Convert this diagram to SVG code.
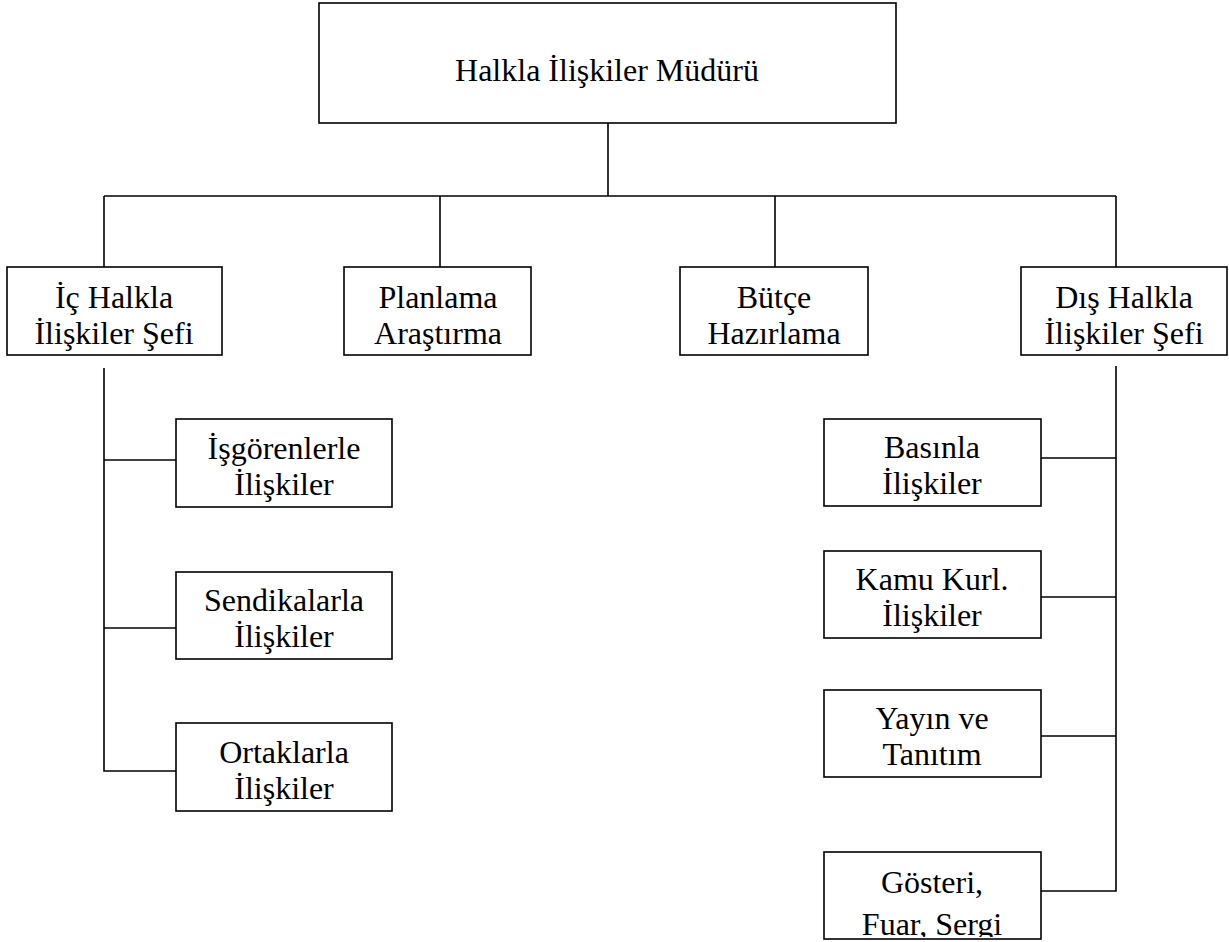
<svg xmlns="http://www.w3.org/2000/svg" width="1229" height="942" viewBox="0 0 1229 942">
<style>
rect.box{fill:#fff;stroke:#000;stroke-width:1.6}
.conn line,.conn polyline{stroke:#000;stroke-width:1.6;fill:none}
text{font-family:"Liberation Serif","Times New Roman",serif;font-size:32px;fill:#000;text-anchor:middle}
</style>
<defs>
<clipPath id="clipG"><rect x="824" y="853" width="216" height="84"/></clipPath>
</defs>
<rect width="1229" height="942" fill="#fff"/>
<g class="conn">
<line x1="608" y1="123" x2="608" y2="196"/>
<line x1="104" y1="196" x2="1116" y2="196"/>
<line x1="104" y1="196" x2="104" y2="267"/>
<line x1="440" y1="196" x2="440" y2="267"/>
<line x1="775" y1="196" x2="775" y2="267"/>
<line x1="1116" y1="196" x2="1116" y2="267"/>
<polyline points="104,368 104,771 176,771"/>
<line x1="104" y1="460" x2="176" y2="460"/>
<line x1="104" y1="628" x2="176" y2="628"/>
<polyline points="1116,366 1116,891 1041,891"/>
<line x1="1041" y1="458" x2="1116" y2="458"/>
<line x1="1041" y1="597" x2="1116" y2="597"/>
<line x1="1041" y1="736" x2="1116" y2="736"/>
</g>
<g id="mudur"><rect class="box" x="319" y="3" width="577" height="120"/><text x="607" y="81">Halkla İlişkiler Müdürü</text></g>
<g id="ic"><rect class="box" x="7" y="267" width="215" height="88"/><text x="114" y="308">İç Halkla</text><text x="114" y="344">İlişkiler Şefi</text></g>
<g id="planlama"><rect class="box" x="344" y="267" width="187" height="88"/><text x="438" y="308">Planlama</text><text x="438" y="344">Araştırma</text></g>
<g id="butce"><rect class="box" x="680" y="267" width="188" height="88"/><text x="774" y="308">Bütçe</text><text x="774" y="344">Hazırlama</text></g>
<g id="dis"><rect class="box" x="1021" y="267" width="206" height="88"/><text x="1124" y="308">Dış Halkla</text><text x="1124" y="344">İlişkiler Şefi</text></g>
<g id="isgoren"><rect class="box" x="176" y="419" width="216" height="88"/><text x="284" y="459">İşgörenlerle</text><text x="284" y="495">İlişkiler</text></g>
<g id="sendika"><rect class="box" x="176" y="572" width="216" height="87"/><text x="284" y="611">Sendikalarla</text><text x="284" y="647">İlişkiler</text></g>
<g id="ortak"><rect class="box" x="176" y="723" width="216" height="88"/><text x="284" y="763">Ortaklarla</text><text x="284" y="799">İlişkiler</text></g>
<g id="basin"><rect class="box" x="824" y="419" width="217" height="87"/><text x="932" y="458">Basınla</text><text x="932" y="494">İlişkiler</text></g>
<g id="kamu"><rect class="box" x="824" y="551" width="217" height="87"/><text x="932" y="590">Kamu Kurl.</text><text x="932" y="626">İlişkiler</text></g>
<g id="yayin"><rect class="box" x="824" y="690" width="217" height="87"/><text x="932" y="729">Yayın ve</text><text x="932" y="765">Tanıtım</text></g>
<g id="gosteri"><rect class="box" x="824" y="852" width="217" height="87"/><g clip-path="url(#clipG)"><text x="932" y="893">Gösteri,</text><text x="932" y="935">Fuar, Sergi</text></g></g>
</svg>
